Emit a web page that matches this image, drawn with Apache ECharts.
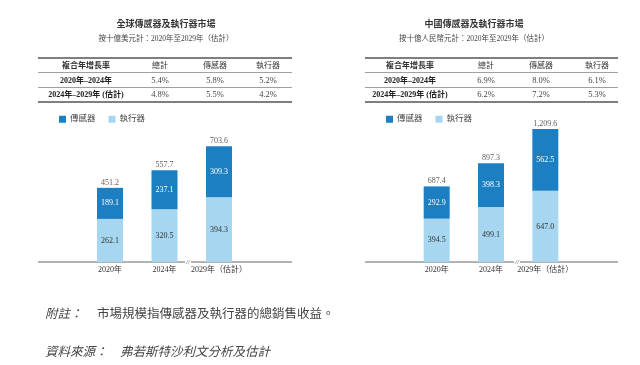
<!DOCTYPE html>
<html><head><meta charset="utf-8">
<script src="https://cdn.jsdelivr.net/npm/echarts@6/dist/echarts.min.js"></script>
<style>html,body{margin:0;padding:0;background:#fff}#c{width:640px;height:365px}</style>
</head><body><div id="c"></div>
<script>
// ---- data ----
const categories = ['2020年', '2024年', '2029年（估計）'];
const globalSensor = [189.1, 237.1, 309.3];
const globalActuator = [262.1, 320.5, 394.3];
const globalTotal = [451.2, 557.7, 703.6];
const chinaSensor = [292.9, 398.3, 562.5];
const chinaActuator = [394.5, 499.1, 647.0];
const chinaTotal = [687.4, 897.3, 1209.6];
const tableHeader = ['複合年增長率', '總計', '傳感器', '執行器'];
const periods = ['2020年–2024年', '2024年–2029年 (估計)'];
const globalCagr = [['5.4%', '5.8%', '5.2%'], ['4.8%', '5.5%', '4.2%']];
const chinaCagr = [['6.9%', '8.0%', '6.1%'], ['6.2%', '7.2%', '5.3%']];
const titles = ['全球傳感器及執行器市場', '中國傳感器及執行器市場'];
const subtitles = ['按十億美元計：2020年至2029年（估計）', '按十億人民幣元計：2020年至2029年（估計）'];
const noteLabel = '附註：';
const noteText = '市場規模指傳感器及執行器的總銷售收益。';
const sourceLabel = '資料來源：';
const sourceText = '弗若斯特沙利文分析及估計';

const DARK = '#1b7fc1', LIGHT = '#a7d7f0';
const SERIF = '"Liberation Serif","Noto Sans CJK TC",serif';
const CJK = '"Liberation Serif","Noto Sans CJK TC",serif';
const fmt = v => v.toLocaleString('en-US', {minimumFractionDigits: 1, maximumFractionDigits: 1});

const chart = echarts.init(document.getElementById('c'));

function panelGraphics(x0, x1, cx, cols, cagr, title, sub) {
  const g = [];
  g.push({type: 'text', style: {text: title, x: cx, y: 25, align: 'center', verticalAlign: 'middle', font: 'bold 9px ' + CJK, fill: '#333'}});
  g.push({type: 'text', style: {text: sub, x: cx, y: 39, align: 'center', verticalAlign: 'middle', font: '7.5px ' + CJK, fill: '#444'}});
  const lines = [[58, 1.5, '#555'], [72.5, 0.8, '#888'], [87.5, 0.8, '#888'], [102, 1.5, '#555']];
  lines.forEach(l => g.push({type: 'line', shape: {x1: x0, y1: l[0], x2: x1, y2: l[0]}, style: {stroke: l[2], lineWidth: l[1]}}));
  tableHeader.forEach((t, i) => g.push({type: 'text', style: {text: t, x: cols[i], y: 65.5, align: 'center', verticalAlign: 'middle', font: (i === 0 ? 'bold ' : '') + '8px ' + CJK, fill: '#333'}}));
  periods.forEach((p, r) => {
    const y = r === 0 ? 80.5 : 95;
    g.push({type: 'text', style: {text: p, x: cols[0], y: y, align: 'center', verticalAlign: 'middle', font: 'bold 8px ' + CJK, fill: '#222'}});
    cagr[r].forEach((v, i) => g.push({type: 'text', style: {text: v, x: cols[i + 1], y: y, align: 'center', verticalAlign: 'middle', font: '8.5px ' + SERIF, fill: '#444'}}));
  });
  return g;
}

const graphics = [].concat(
  panelGraphics(38, 292, 166, [86, 160, 215, 268], globalCagr, titles[0], subtitles[0]),
  panelGraphics(365, 618, 474, [410, 486, 541, 597], chinaCagr, titles[1], subtitles[1]),
  [
    {type: 'line', shape: {x1: 38, y1: 262, x2: 292, y2: 262}, style: {stroke: '#666', lineWidth: 1}},
    {type: 'line', shape: {x1: 365, y1: 262, x2: 618, y2: 262}, style: {stroke: '#666', lineWidth: 1}},
    {type: 'rect', shape: {x: 185, y: 259, width: 6, height: 6}, style: {fill: '#fff'}},
    {type: 'rect', shape: {x: 514, y: 259, width: 6, height: 6}, style: {fill: '#fff'}},
    {type: 'text', style: {text: '//', x: 188, y: 262, align: 'center', verticalAlign: 'middle', font: 'italic 7px ' + SERIF, fill: '#555'}},
    {type: 'text', style: {text: '//', x: 517, y: 262, align: 'center', verticalAlign: 'middle', font: 'italic 7px ' + SERIF, fill: '#555'}},
    {type: 'text', style: {text: noteLabel, x: 45, y: 315, verticalAlign: 'middle', font: 'italic 12.5px ' + CJK, fill: '#444'}},
    {type: 'text', style: {text: noteText, x: 97, y: 315, verticalAlign: 'middle', font: '12.5px ' + CJK, fill: '#444'}},
    {type: 'text', style: {text: sourceLabel, x: 45, y: 353, verticalAlign: 'middle', font: 'italic 12.5px ' + CJK, fill: '#444'}},
    {type: 'text', style: {text: sourceText, x: 120, y: 353, verticalAlign: 'middle', font: 'italic 12.5px ' + CJK, fill: '#444'}}
  ]
);

function barSeries(idx, act, sen, tot) {
  return [
    {name: '執行器', type: 'bar', stack: 's' + idx, xAxisIndex: idx, yAxisIndex: idx, data: act, barWidth: 26,
      itemStyle: {color: LIGHT},
      label: {show: true, position: 'inside', color: '#333', fontFamily: SERIF, fontSize: 8, formatter: p => fmt(p.value)}},
    {name: '傳感器', type: 'bar', stack: 's' + idx, xAxisIndex: idx, yAxisIndex: idx, data: sen, barWidth: 26,
      itemStyle: {color: DARK},
      label: {show: true, position: 'inside', color: '#fff', fontFamily: SERIF, fontSize: 8, formatter: p => fmt(p.value)}},
    {name: 'total' + idx, type: 'scatter', xAxisIndex: idx, yAxisIndex: idx, data: tot, symbolSize: 0.01, silent: true,
      label: {show: true, position: 'top', distance: 1, color: '#333', fontFamily: SERIF, fontSize: 8, formatter: p => fmt(p.value)}}
  ];
}

const xAxisBase = {type: 'category', data: categories, axisLine: {show: false}, axisTick: {show: false},
  axisLabel: {color: '#333', fontFamily: CJK, fontSize: 8, margin: 4, interval: 0}};
const yAxisBase = {type: 'value', min: 0, show: false, splitLine: {show: false}};

chart.setOption({
  backgroundColor: '#fff',
  animation: false,
  legend: [
    {left: 54, top: 110, itemWidth: 7, itemHeight: 7, itemGap: 13, data: ['傳感器', '執行器'], icon: 'rect',
      textStyle: {fontSize: 8.5, fontFamily: CJK, color: '#444', padding: [0, 0, 0, -1]}},
    {left: 381, top: 110, itemWidth: 7, itemHeight: 7, itemGap: 13, data: ['傳感器', '執行器'], icon: 'rect',
      textStyle: {fontSize: 8.5, fontFamily: CJK, color: '#444', padding: [0, 0, 0, -1]}}
  ],
  grid: [
    {left: 82.75, width: 163.5, top: 130.5, height: 131.5},
    {left: 409.5, width: 163, top: 119, height: 143}
  ],
  xAxis: [Object.assign({gridIndex: 0}, xAxisBase), Object.assign({gridIndex: 1}, xAxisBase)],
  yAxis: [Object.assign({gridIndex: 0, max: 800}, yAxisBase), Object.assign({gridIndex: 1, max: 1300}, yAxisBase)],
  series: [].concat(barSeries(0, globalActuator, globalSensor, globalTotal), barSeries(1, chinaActuator, chinaSensor, chinaTotal)),
  graphic: graphics
});
</script></body></html>
